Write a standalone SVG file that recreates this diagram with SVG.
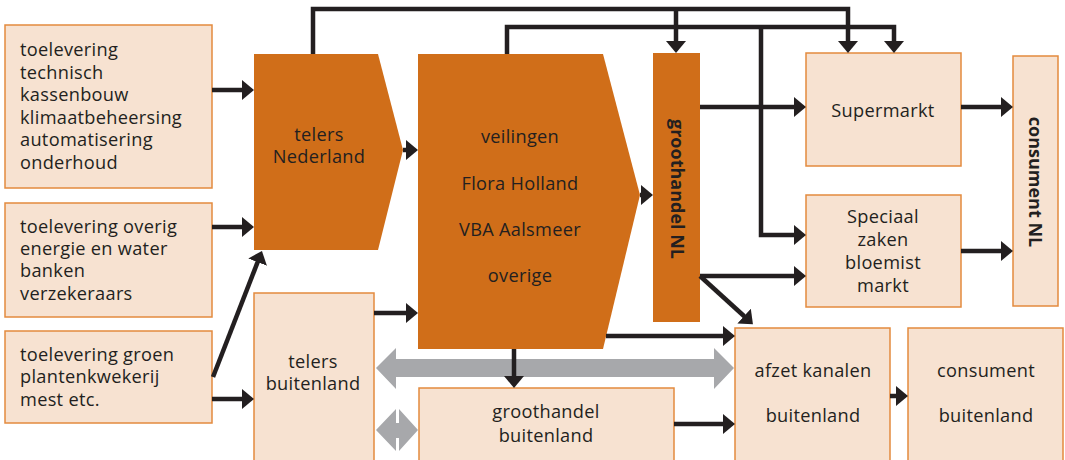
<svg xmlns="http://www.w3.org/2000/svg" width="1065" height="460" viewBox="0 0 1065 460">
  <style>
    .light { fill: #F7E2D1; stroke: #E38A3E; stroke-width: 1.5; }
    .dark { fill: #D06E19; }
    .t { font-family: "Open Sans", "Liberation Sans", sans-serif; font-size: 18.2px; letter-spacing: 0.3px; fill: #231F20; }
    .c { text-anchor: middle; }
    .b { font-weight: bold; font-size: 18px; letter-spacing: 0; }
    .ln { fill: none; stroke: #231F20; stroke-width: 4.5; }
    .arr { marker-end: url(#ah); }
    .gray { fill: #A7A8AB; }
  </style>
  <defs>
    <marker id="ah" markerUnits="userSpaceOnUse" markerWidth="13" markerHeight="21" refX="8" refY="10" orient="auto" viewBox="0 0 13 21">
      <path d="M0,0 L12,10 L0,20 Z" fill="#231F20"/>
    </marker>
  </defs>

  <rect width="1065" height="460" fill="#FFFFFF"/>

  <!-- suppliers -->
  <g id="toelevering-technisch">
    <rect class="light" x="5" y="25" width="207" height="163"/>
    <text class="t" x="20" y="56">toelevering</text>
    <text class="t" x="20" y="79">technisch</text>
    <text class="t" x="20" y="101">kassenbouw</text>
    <text class="t" x="20" y="124">klimaatbeheersing</text>
    <text class="t" x="20" y="146">automatisering</text>
    <text class="t" x="20" y="169">onderhoud</text>
  </g>
  <g id="toelevering-overig">
    <rect class="light" x="5" y="203" width="207" height="114"/>
    <text class="t" x="20" y="233">toelevering overig</text>
    <text class="t" x="20" y="255">energie en water</text>
    <text class="t" x="20" y="277">banken</text>
    <text class="t" x="20" y="300">verzekeraars</text>
  </g>
  <g id="toelevering-groen">
    <rect class="light" x="5" y="331" width="207" height="92"/>
    <text class="t" x="20" y="361">toelevering groen</text>
    <text class="t" x="20" y="383">plantenkwekerij</text>
    <text class="t" x="20" y="406">mest etc.</text>
  </g>

  <!-- growers -->
  <g id="telers-nederland">
    <polygon class="dark" points="254,54 378,54 403,150 378,250 254,250"/>
    <text class="t c" x="319" y="141">telers</text>
    <text class="t c" x="319" y="163">Nederland</text>
  </g>
  <g id="telers-buitenland">
    <rect class="light" x="254" y="293" width="120" height="180"/>
    <text class="t c" x="313" y="368">telers</text>
    <text class="t c" x="313" y="390">buitenland</text>
  </g>

  <!-- auctions -->
  <g id="veilingen">
    <polygon class="dark" points="418,54 603,54 640,195 603,349 418,349"/>
    <text class="t c" x="520" y="143">veilingen</text>
    <text class="t c" x="520" y="190">Flora Holland</text>
    <text class="t c" x="520" y="236">VBA Aalsmeer</text>
    <text class="t c" x="520" y="282">overige</text>
  </g>

  <!-- wholesale -->
  <g id="groothandel-nl">
    <rect class="dark" x="653" y="53" width="47" height="269"/>
    <text class="t c b" transform="translate(677,189) rotate(90)" y="6">groothandel NL</text>
  </g>
  <g id="groothandel-buitenland">
    <rect class="light" x="419" y="388" width="255" height="90"/>
    <text class="t c" x="546" y="418">groothandel</text>
    <text class="t c" x="546" y="442">buitenland</text>
  </g>

  <!-- retail -->
  <g id="supermarkt">
    <rect class="light" x="806" y="53" width="155" height="113"/>
    <text class="t c" x="883" y="117">Supermarkt</text>
  </g>
  <g id="speciaalzaken">
    <rect class="light" x="806" y="195" width="155" height="112"/>
    <text class="t c" x="883" y="223">Speciaal</text>
    <text class="t c" x="883" y="246">zaken</text>
    <text class="t c" x="883" y="269">bloemist</text>
    <text class="t c" x="883" y="292">markt</text>
  </g>
  <g id="afzet-kanalen">
    <rect class="light" x="735" y="328" width="155" height="150"/>
    <text class="t c" x="813" y="377">afzet kanalen</text>
    <text class="t c" x="813" y="422">buitenland</text>
  </g>

  <!-- consumers -->
  <g id="consument-nl">
    <rect class="light" x="1013" y="56" width="45" height="250"/>
    <text class="t c b" transform="translate(1035,182) rotate(90)" y="6">consument NL</text>
  </g>
  <g id="consument-buitenland">
    <rect class="light" x="908" y="328" width="155" height="150"/>
    <text class="t c" x="986" y="377">consument</text>
    <text class="t c" x="986" y="422">buitenland</text>
  </g>

  <!-- connectors -->
  <g id="connectors">
    <!-- two-way exchange arrows (underneath the black flows) -->
    <polygon class="gray" points="376,368 396,348 396,359 714,359 714,348 734,368 714,389 714,377 396,377 396,389"/>
    <polygon class="gray" points="376,430 396,409 396,423 399,423 399,409 418,430 399,451 399,438 396,438 396,451"/>

    <!-- top distribution lines -->
    <path class="ln arr" d="M313,54 V9 H848 V49"/>
    <path class="ln arr" d="M676,9 V49"/>
    <path class="ln arr" d="M507,54 V27 H894 V49"/>
    <path class="ln arr" d="M761,27 V235 H802"/>

    <!-- suppliers to growers -->
    <path class="ln arr" d="M212,90 H250"/>
    <path class="ln arr" d="M212,227 H250"/>
    <path class="ln arr" d="M212,399 H250"/>
    <path class="ln arr" d="M213,377 L260.5,254.7"/>

    <!-- growers to auctions -->
    <path class="ln arr" d="M403,150 H414"/>
    <path class="ln arr" d="M374,313 H414"/>

    <!-- auctions onward -->
    <path class="ln arr" d="M640,195 H649"/>
    <path class="ln arr" d="M606,336 H731"/>
    <path class="ln arr" d="M514,349 V384"/>

    <!-- wholesale NL onward -->
    <path class="ln arr" d="M700,107 H802"/>
    <path class="ln arr" d="M700,276 H802"/>
    <path class="ln arr" d="M700,276 L750,321.5"/>

    <!-- retail to consumers -->
    <path class="ln arr" d="M961,107 H1009"/>
    <path class="ln arr" d="M961,251 H1009"/>

    <!-- foreign chain -->
    <path class="ln arr" d="M674,424 H731"/>
    <path class="ln arr" d="M890,396 H904"/>
  </g>
</svg>
